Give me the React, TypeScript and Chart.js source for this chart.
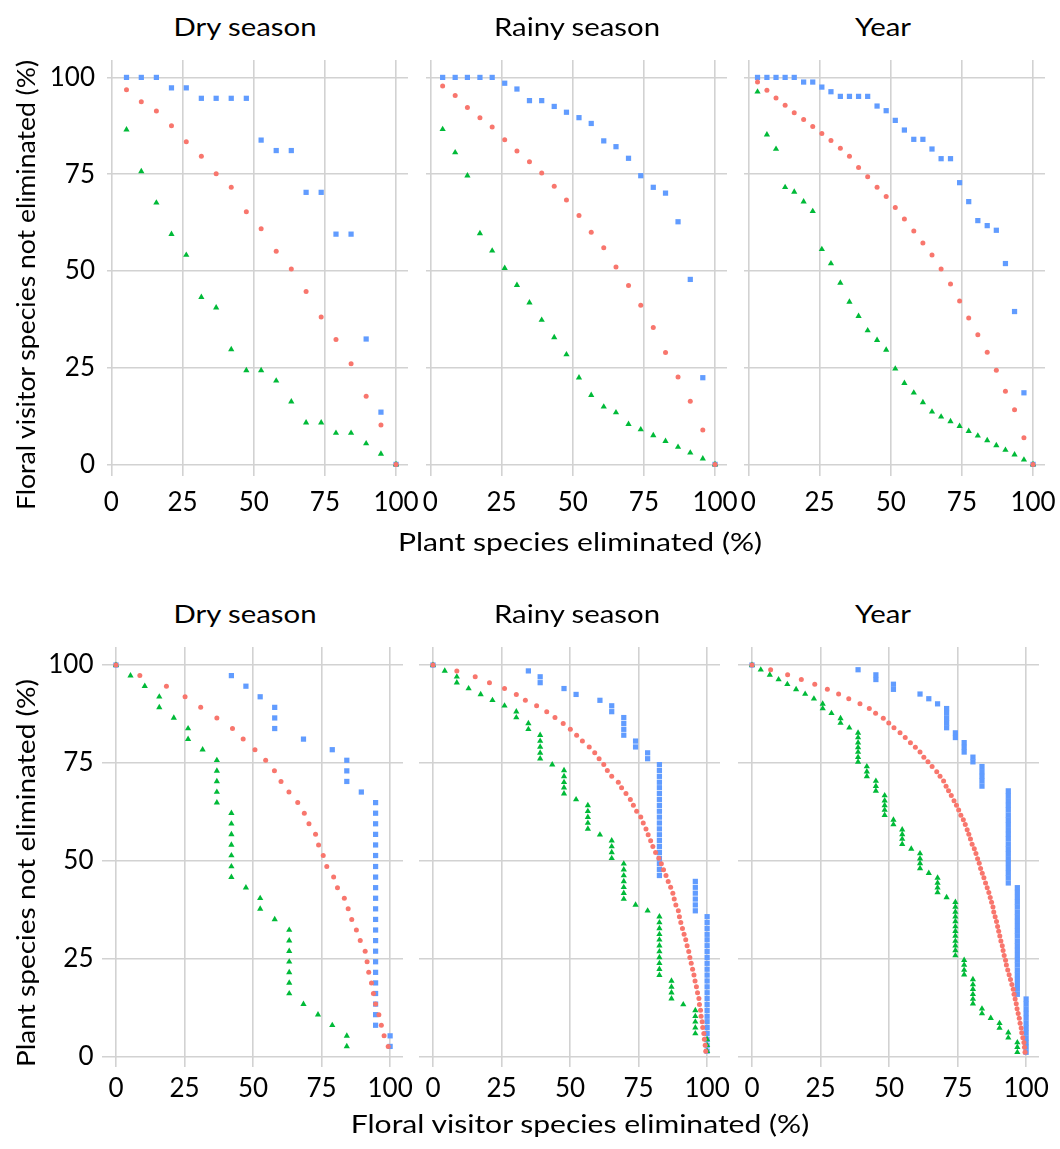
import React, { useEffect, useRef } from 'react';
import { Chart, registerables } from 'chart.js';

Chart.register(...registerables);

const RED = '#F8766D';
const GREEN = '#00BA38';
const BLUE = '#619CFF';
const GRID = '#d2d2d2';
const FONT = 'Lato, "Open Sans", sans-serif';

const tickValues = [0, 25, 50, 75, 100];
const panelTitles = ['Dry season', 'Rainy season', 'Year'];

// ---------- Top row: x = plant species eliminated (%), y = floral visitor species not eliminated (%)
const dryPlantElim = [5.3, 10.5, 15.8, 21.1, 26.3, 31.6, 36.8, 42.1, 47.4, 52.6, 57.9, 63.2, 68.4, 73.7, 78.9, 84.2, 89.5, 94.7, 100];
const dryVisCircle = [96.8, 93.7, 91.3, 87.5, 83.4, 79.6, 75.1, 71.6, 65.3, 60.9, 55.1, 50.5, 44.7, 38.1, 32.3, 26.0, 17.6, 10.2, 0];
const dryVisTriangle = [86.5, 75.7, 67.6, 59.5, 54.1, 43.2, 40.5, 29.7, 24.3, 24.3, 21.6, 16.2, 10.8, 10.8, 8.1, 8.1, 5.4, 2.7, 0];
const dryVisSquare = [100, 100, 100, 97.3, 97.3, 94.6, 94.6, 94.6, 94.6, 83.8, 81.1, 81.1, 70.3, 70.3, 59.5, 59.5, 32.4, 13.5, 0];

const rainyPlantElim = [4.3, 8.7, 13.0, 17.4, 21.7, 26.1, 30.4, 34.8, 39.1, 43.5, 47.8, 52.2, 56.5, 60.9, 65.2, 69.6, 73.9, 78.3, 82.6, 87.0, 91.3, 95.7, 100];
const rainyVisCircle = [97.8, 95.3, 92.2, 89.6, 87.2, 83.9, 81.0, 78.2, 75.3, 71.9, 68.3, 64.3, 60.0, 56.0, 51.0, 46.2, 41.1, 35.4, 28.9, 22.6, 16.3, 8.9, 0];
const rainyVisTriangle = [86.6, 80.6, 74.6, 59.7, 55.2, 50.7, 46.3, 41.8, 37.3, 32.8, 28.4, 22.4, 17.9, 14.9, 13.4, 10.4, 9.0, 7.5, 6.0, 4.5, 3.0, 1.5, 0];
const rainyVisSquare = [100, 100, 100, 100, 100, 98.5, 97.0, 94.0, 94.0, 92.5, 91.0, 89.6, 88.1, 83.6, 82.1, 79.1, 74.6, 71.6, 70.1, 62.7, 47.8, 22.4, 0];

const yearPlantElim = [3.2, 6.5, 9.7, 12.9, 16.1, 19.4, 22.6, 25.8, 29.0, 32.3, 35.5, 38.7, 41.9, 45.2, 48.4, 51.6, 54.8, 58.1, 61.3, 64.5, 67.7, 71.0, 74.2, 77.4, 80.6, 83.9, 87.1, 90.3, 93.5, 96.8, 100];
const yearVisCircle = [98.8, 96.7, 94.7, 92.8, 90.9, 89.1, 87.3, 85.5, 83.7, 81.7, 79.6, 76.7, 74.3, 71.6, 69.2, 66.4, 63.4, 60.3, 57.2, 54.1, 50.5, 46.6, 42.2, 37.8, 33.5, 29.0, 24.3, 18.9, 14.1, 6.9, 0];
const yearVisTriangle = [96.3, 85.2, 81.5, 71.6, 70.4, 67.9, 65.4, 55.6, 51.9, 46.9, 42.0, 38.3, 34.6, 32.1, 29.6, 24.7, 21.0, 18.5, 16.0, 13.6, 12.3, 11.1, 9.9, 8.6, 7.4, 6.2, 4.9, 3.7, 2.5, 1.2, 0];
const yearVisSquare = [100, 100, 100, 100, 100, 98.8, 98.8, 97.5, 96.3, 95.1, 95.1, 95.1, 95.1, 92.6, 91.4, 88.9, 86.4, 84.0, 84.0, 81.5, 79.0, 79.0, 72.8, 67.9, 63.0, 61.7, 60.5, 51.9, 39.5, 18.5, 0];

// ---------- Bottom row: y = plant species not eliminated (%), x = floral visitor species eliminated (%)
const dryPlantLeft = [100, 97.3, 94.6, 91.9, 89.2, 86.5, 83.8, 81.1, 78.4, 75.7, 73.0, 70.3, 67.6, 64.9, 62.2, 59.5, 56.8, 54.1, 51.4, 48.6, 45.9, 43.2, 40.5, 37.8, 35.1, 32.4, 29.7, 27.0, 24.3, 21.6, 18.9, 16.2, 13.5, 10.8, 8.1, 5.4, 2.7];
const dryElimCircle = [0, 8.7, 18.4, 25.2, 30.9, 36.8, 42.5, 46.4, 50.7, 54.6, 57.8, 60.2, 63.1, 66.3, 68.7, 70.4, 72.8, 73.9, 75.6, 76.9, 79.4, 80.8, 83.3, 84.7, 86.0, 87.7, 89.1, 90.9, 91.6, 92.2, 93.2, 93.9, 94.7, 95.9, 96.8, 97.8, 99.3];
const dryElimTriangle = [0, 5.3, 10.5, 15.8, 15.8, 21.1, 26.3, 26.3, 31.6, 36.8, 36.8, 36.8, 36.8, 36.8, 42.1, 42.1, 42.1, 42.1, 42.1, 42.1, 42.1, 47.4, 52.6, 52.6, 57.9, 63.2, 63.2, 63.2, 63.2, 63.2, 63.2, 63.2, 68.4, 73.7, 78.9, 84.2, 84.2];
const dryElimSquare = [0, 42.1, 47.4, 52.6, 57.9, 57.9, 57.9, 68.4, 78.9, 84.2, 84.2, 84.2, 89.5, 94.7, 94.7, 94.7, 94.7, 94.7, 94.7, 94.7, 94.7, 94.7, 94.7, 94.7, 94.7, 94.7, 94.7, 94.7, 94.7, 94.7, 94.7, 94.7, 94.7, 94.7, 94.7, 100, 100];

const rainyPlantLeft = [100, 98.5, 97.0, 95.5, 94.0, 92.5, 91.0, 89.6, 88.1, 86.6, 85.1, 83.6, 82.1, 80.6, 79.1, 77.6, 76.1, 74.6, 73.1, 71.6, 70.1, 68.7, 67.2, 65.7, 64.2, 62.7, 61.2, 59.7, 58.2, 56.7, 55.2, 53.7, 52.2, 50.7, 49.3, 47.8, 46.3, 44.8, 43.3, 41.8, 40.3, 38.8, 37.3, 35.8, 34.3, 32.8, 31.3, 29.9, 28.4, 26.9, 25.4, 23.9, 22.4, 20.9, 19.4, 17.9, 16.4, 14.9, 13.4, 11.9, 10.4, 9.0, 7.5, 6.0, 4.5, 3.0, 1.5];
const rainyElimCircle = [0, 8.7, 15.4, 20.6, 26.1, 30.4, 33.7, 37.8, 41.5, 44.5, 47.5, 50.1, 52.4, 54.5, 57.0, 59.0, 60.6, 62.3, 63.6, 65.2, 67.6, 68.8, 70.4, 72.0, 73.1, 74.3, 75.8, 76.7, 77.7, 78.5, 79.4, 80.2, 81.2, 82.4, 83.3, 84.1, 85.0, 85.8, 86.7, 87.5, 88.0, 88.6, 89.5, 89.9, 90.4, 91.0, 91.6, 92.2, 92.7, 93.3, 93.7, 94.2, 94.7, 95.2, 95.6, 96.1, 96.5, 97.0, 97.2, 97.6, 97.8, 98.2, 98.4, 98.8, 99.0, 99.3, 99.5];
const rainyElimTriangle = [0, 4.3, 8.7, 8.7, 13.0, 17.4, 21.7, 26.1, 30.4, 30.4, 34.8, 34.8, 39.1, 39.1, 39.1, 39.1, 39.1, 43.5, 47.8, 47.8, 47.8, 47.8, 47.8, 52.2, 56.5, 56.5, 56.5, 56.5, 56.5, 60.9, 65.2, 65.2, 65.2, 65.2, 69.6, 69.6, 69.6, 69.6, 69.6, 69.6, 69.6, 73.9, 78.3, 82.6, 82.6, 82.6, 82.6, 82.6, 82.6, 82.6, 82.6, 82.6, 82.6, 82.6, 87.0, 87.0, 87.0, 87.0, 91.3, 95.7, 95.7, 95.7, 95.7, 95.7, 100, 100, 100];
const rainyElimSquare = [0, 34.8, 39.1, 39.1, 47.8, 52.2, 60.9, 65.2, 65.2, 69.6, 69.6, 69.6, 69.6, 73.9, 73.9, 78.3, 78.3, 82.6, 82.6, 82.6, 82.6, 82.6, 82.6, 82.6, 82.6, 82.6, 82.6, 82.6, 82.6, 82.6, 82.6, 82.6, 82.6, 82.6, 82.6, 82.6, 82.6, 95.7, 95.7, 95.7, 95.7, 95.7, 95.7, 100, 100, 100, 100, 100, 100, 100, 100, 100, 100, 100, 100, 100, 100, 100, 100, 100, 100, 100, 100, 100, 100, 100, 100];

const yearPlantLeft = [100, 98.8, 97.5, 96.3, 95.1, 93.8, 92.6, 91.4, 90.1, 88.9, 87.7, 86.4, 85.2, 84.0, 82.7, 81.5, 80.2, 79.0, 77.8, 76.5, 75.3, 74.1, 72.8, 71.6, 70.4, 69.1, 67.9, 66.7, 65.4, 64.2, 63.0, 61.7, 60.5, 59.3, 58.0, 56.8, 55.6, 54.3, 53.1, 51.9, 50.6, 49.4, 48.1, 46.9, 45.7, 44.4, 43.2, 42.0, 40.7, 39.5, 38.3, 37.0, 35.8, 34.6, 33.3, 32.1, 30.9, 29.6, 28.4, 27.2, 25.9, 24.7, 23.5, 22.2, 21.0, 19.8, 18.5, 17.3, 16.0, 14.8, 13.6, 12.3, 11.1, 9.9, 8.6, 7.4, 6.2, 4.9, 3.7, 2.5, 1.2];
const yearElimCircle = [0, 6.8, 13.0, 18.0, 22.9, 27.5, 31.6, 35.3, 39.4, 42.8, 45.1, 47.9, 49.9, 51.8, 54.0, 55.9, 57.8, 59.6, 61.3, 62.7, 64.2, 65.7, 67.4, 68.6, 69.9, 70.8, 71.7, 72.7, 73.7, 74.6, 75.4, 76.2, 77.1, 77.8, 78.5, 79.1, 79.7, 80.3, 81.1, 81.7, 82.3, 82.9, 83.4, 84.0, 84.6, 85.2, 85.8, 86.4, 86.9, 87.4, 87.9, 88.2, 88.7, 89.2, 89.6, 90.0, 90.4, 90.8, 91.3, 91.6, 92.0, 92.5, 92.8, 93.3, 93.8, 94.3, 94.8, 95.3, 95.6, 96.0, 96.4, 96.7, 97.1, 97.5, 97.8, 98.2, 98.4, 98.8, 99.2, 99.4, 99.6];
const yearElimTriangle = [0, 3.2, 6.5, 9.7, 12.9, 16.1, 19.4, 22.6, 25.8, 25.8, 29.0, 32.3, 32.3, 35.5, 38.7, 38.7, 38.7, 38.7, 38.7, 38.7, 38.7, 41.9, 41.9, 41.9, 45.2, 45.2, 45.2, 48.4, 48.4, 48.4, 48.4, 48.4, 51.6, 51.6, 54.8, 54.8, 54.8, 54.8, 58.1, 61.3, 61.3, 61.3, 61.3, 64.5, 67.7, 67.7, 67.7, 67.7, 71.0, 74.2, 74.2, 74.2, 74.2, 74.2, 74.2, 74.2, 74.2, 74.2, 74.2, 74.2, 74.2, 77.4, 77.4, 77.4, 77.4, 80.6, 80.6, 80.6, 80.6, 80.6, 80.6, 83.9, 83.9, 87.1, 90.3, 90.3, 93.5, 93.5, 96.8, 96.8, 96.8];
const yearElimSquare = [0, 38.7, 45.2, 45.2, 51.6, 51.6, 61.3, 64.5, 67.7, 71.0, 71.0, 71.0, 71.0, 71.0, 74.2, 74.2, 77.4, 77.4, 77.4, 80.6, 80.6, 83.9, 83.9, 83.9, 83.9, 83.9, 93.5, 93.5, 93.5, 93.5, 93.5, 93.5, 93.5, 93.5, 93.5, 93.5, 93.5, 93.5, 93.5, 93.5, 93.5, 93.5, 93.5, 93.5, 93.5, 93.5, 96.8, 96.8, 96.8, 96.8, 96.8, 96.8, 96.8, 96.8, 96.8, 96.8, 96.8, 96.8, 96.8, 96.8, 96.8, 96.8, 96.8, 96.8, 96.8, 96.8, 96.8, 96.8, 96.8, 100, 100, 100, 100, 100, 100, 100, 100, 100, 100, 100, 100];

type Pt = { x: number; y: number };
const zipTop = (xs: number[], ys: number[]): Pt[] => xs.map((x, i) => ({ x, y: ys[i] }));
const zipBottom = (xs: number[], ys: number[]): Pt[] => ys.map((y, i) => ({ x: xs[i], y }));

type PanelCfg = {
  left: number; top: number; width: number; height: number;
  xMin: number; xMax: number; yMin: number; yMax: number;
  showY: boolean; xPad: number; yPad: number;
  circle: Pt[]; triangle: Pt[]; square: Pt[];
};

const TOP = { top: 60, height: 416, width: 301, xMin: -1.55, xMax: 104.2, yMin: -3.0, yMax: 104.5, xPad: 11, yPad: 12 };
const BOT = { top: 647, height: 420, width: 301, xMin: -5.1, xMax: 104.7, yMin: -2.55, yMax: 104.6, xPad: 6, yPad: 8.5 };

const panels: PanelCfg[] = [
  { ...TOP, left: 107, showY: true, circle: zipTop(dryPlantElim, dryVisCircle), triangle: zipTop(dryPlantElim, dryVisTriangle), square: zipTop(dryPlantElim, dryVisSquare) },
  { ...TOP, left: 426, showY: false, circle: zipTop(rainyPlantElim, rainyVisCircle), triangle: zipTop(rainyPlantElim, rainyVisTriangle), square: zipTop(rainyPlantElim, rainyVisSquare) },
  { ...TOP, left: 744, showY: false, circle: zipTop(yearPlantElim, yearVisCircle), triangle: zipTop(yearPlantElim, yearVisTriangle), square: zipTop(yearPlantElim, yearVisSquare) },
  { ...BOT, left: 102, showY: true, circle: zipBottom(dryElimCircle, dryPlantLeft), triangle: zipBottom(dryElimTriangle, dryPlantLeft), square: zipBottom(dryElimSquare, dryPlantLeft) },
  { ...BOT, left: 419, showY: false, circle: zipBottom(rainyElimCircle, rainyPlantLeft), triangle: zipBottom(rainyElimTriangle, rainyPlantLeft), square: zipBottom(rainyElimSquare, rainyPlantLeft) },
  { ...BOT, left: 738, showY: false, circle: zipBottom(yearElimCircle, yearPlantLeft), triangle: zipBottom(yearElimTriangle, yearPlantLeft), square: zipBottom(yearElimSquare, yearPlantLeft) },
];

const PAD_T = 8, PAD_R = 26, X_AXIS_H = 58, Y_AXIS_W = 104, PAD_L_PLAIN = 22;

function Panel({ cfg }: { cfg: PanelCfg }) {
  const ref = useRef<HTMLCanvasElement>(null);
  const padL = cfg.showY ? 0 : PAD_L_PLAIN;
  const yW = cfg.showY ? Y_AXIS_W : 0;
  const W = padL + yW + cfg.width + PAD_R;
  const H = PAD_T + cfg.height + X_AXIS_H;

  useEffect(() => {
    if (!ref.current) return;
    const tickFont = { family: FONT, size: 26 };
    const chart = new Chart(ref.current, {
      type: 'scatter',
      data: {
        datasets: [
          { label: 'circle', data: cfg.circle, pointStyle: 'circle', pointRadius: 2.5, pointHoverRadius: 2.5, backgroundColor: RED, pointBackgroundColor: RED, borderWidth: 0, pointBorderWidth: 0, clip: false } as any,
          { label: 'triangle', data: cfg.triangle, pointStyle: 'triangle', pointRadius: 3.6, pointHoverRadius: 3.6, backgroundColor: GREEN, pointBackgroundColor: GREEN, borderWidth: 0, pointBorderWidth: 0, clip: false } as any,
          { label: 'square', data: cfg.square, pointStyle: 'rect', pointRadius: 3.7, pointHoverRadius: 3.7, backgroundColor: BLUE, pointBackgroundColor: BLUE, borderWidth: 0, pointBorderWidth: 0, clip: false } as any,
        ],
      },
      options: {
        responsive: false,
        animation: false,
        devicePixelRatio: 1,
        events: [],
        layout: { padding: { left: padL, right: PAD_R, top: PAD_T, bottom: 0 } },
        plugins: { legend: { display: false }, tooltip: { enabled: false }, title: { display: false } },
        scales: {
          x: {
            type: 'linear', min: cfg.xMin, max: cfg.xMax,
            afterBuildTicks: (s: any) => { s.ticks = tickValues.map((v) => ({ value: v })); },
            afterFit: (s: any) => { s.height = X_AXIS_H; s.paddingLeft = 0; s.paddingRight = 0; s.paddingTop = 0; s.paddingBottom = 0; },
            grid: { color: GRID, lineWidth: 1.6, drawTicks: false },
            border: { display: false },
            ticks: { color: '#000', font: tickFont, padding: cfg.xPad, maxRotation: 0, minRotation: 0, autoSkip: false, callback: (v: any) => String(v) },
          },
          y: {
            type: 'linear', min: cfg.yMin, max: cfg.yMax,
            afterBuildTicks: (s: any) => { s.ticks = tickValues.map((v) => ({ value: v })); },
            afterFit: (s: any) => { s.width = yW; s.paddingLeft = 0; s.paddingRight = 0; s.paddingTop = 0; s.paddingBottom = 0; },
            grid: { color: GRID, lineWidth: 1.6, drawTicks: false },
            border: { display: false },
            ticks: { display: cfg.showY, color: '#000', font: tickFont, padding: cfg.yPad, autoSkip: false, callback: (v: any) => String(v) },
          },
        },
      } as any,
    });
    return () => chart.destroy();
  }, []);

  return (
    <canvas
      ref={ref}
      width={W}
      height={H}
      style={{ position: 'absolute', left: cfg.left - padL - yW, top: cfg.top - PAD_T, width: W, height: H }}
    />
  );
}

const TXT = 25.5;
const SX = 1.15;
const SX_AXIS = 1.18;
const baseText: React.CSSProperties = {
  position: 'absolute',
  fontFamily: FONT,
  fontSize: TXT,
  lineHeight: `${TXT}px`,
  color: '#000',
  whiteSpace: 'nowrap',
};

const titleCentersX = [244.5, 577, 882.5];

export default function App() {
  return (
    <div style={{ position: 'absolute', left: 0, top: 0, width: 1060, height: 1149, background: '#fff', overflow: 'hidden' }}>
      {panels.map((p, i) => <Panel key={i} cfg={p} />)}
      {panelTitles.map((t, i) => (
        <div key={'tt' + i} style={{ ...baseText, left: titleCentersX[i], top: 14, transform: `translateX(-50%) scaleX(${SX})` }}>{t}</div>
      ))}
      {panelTitles.map((t, i) => (
        <div key={'bt' + i} style={{ ...baseText, left: titleCentersX[i], top: 601, transform: `translateX(-50%) scaleX(${SX})` }}>{t}</div>
      ))}
      <div style={{ ...baseText, left: 580, top: 529, transform: `translateX(-50%) scaleX(${SX_AXIS})` }}>Plant species eliminated (%)</div>
      <div style={{ ...baseText, left: 580, top: 1111, transform: `translateX(-50%) scaleX(${SX_AXIS})` }}>Floral visitor species eliminated (%)</div>
      <div style={{ ...baseText, left: 26, top: 285, transform: 'translate(-50%, -50%) rotate(-90deg) scaleX(1.04)' }}>Floral visitor species not eliminated (%)</div>
      <div style={{ ...baseText, left: 26, top: 873, transform: 'translate(-50%, -50%) rotate(-90deg) scaleX(1.1)' }}>Plant species not eliminated (%)</div>
    </div>
  );
}
